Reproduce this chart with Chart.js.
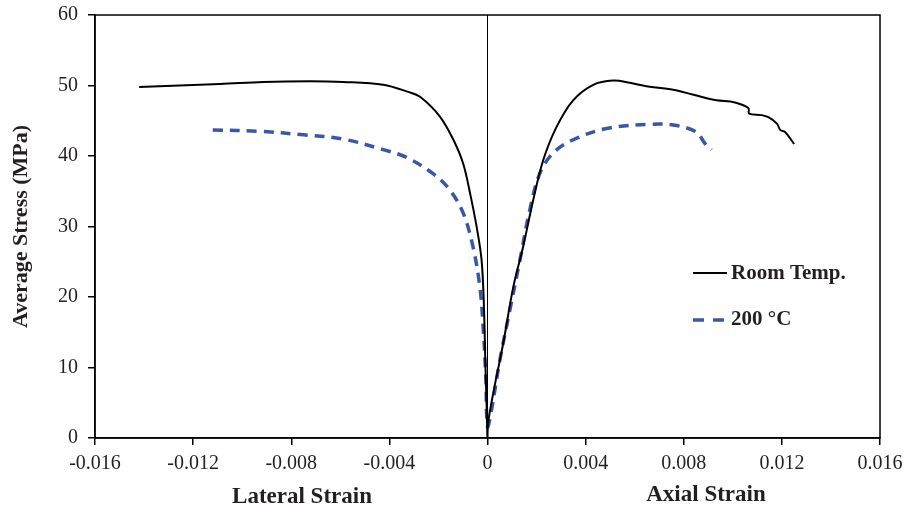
<!DOCTYPE html>
<html>
<head>
<meta charset="utf-8">
<script src="https://cdn.jsdelivr.net/npm/chart.js@4.4.1/dist/chart.umd.min.js"></script>
<style>
  html, body { margin: 0; padding: 0; background: #fff; }
  #wrap { width: 906px; height: 511px; }
</style>
</head>
<body>
<div id="wrap"><canvas id="c" width="906" height="511"></canvas></div>
<script>
// lateral strain is negative, axial strain positive
const roomStrain = [-0.0142, -0.0109, -0.00915, -0.00724, -0.00588, -0.00425, -0.00324, -0.00275, -0.00194, -0.00139,
  -0.00099, -0.00071, -0.00044, -0.00024, -0.00014, -0.00009, -0.00003, 0,
  0.00002, 0.00023, 0.00064, 0.00105, 0.00145, 0.00186, 0.00227, 0.00281, 0.00349, 0.00431, 0.00513, 0.0058,
  0.00648, 0.00757, 0.00893, 0.00934, 0.01009, 0.01063, 0.01067, 0.01118, 0.01145, 0.0118, 0.01193, 0.01213, 0.0125];
const roomStress = [49.8, 50.2, 50.5, 50.6, 50.5, 50.1, 49.1, 48.4, 45.6, 42.3,
  38.9, 34.7, 29.9, 25.2, 18.1, 11.0, 3.9, 0,
  2.0, 6.3, 13.4, 21.4, 27.1, 33.7, 39.4, 44.1, 47.9, 50.1, 50.7, 50.4,
  49.9, 49.4, 48.2, 47.9, 47.6, 46.8, 46.0, 45.8, 45.5, 44.6, 43.7, 43.4, 41.7];

const hotStrain = [-0.0112, -0.00927, -0.00751, -0.00588, -0.00425, -0.0033, -0.00222, -0.00154, -0.00099, -0.00059,
  -0.00031, -0.00018, -0.00007, 0,
  0.00016, 0.0005, 0.00091, 0.00132, 0.00172, 0.00213, 0.00267, 0.00349, 0.00485, 0.00662, 0.00757, 0.00852, 0.00886, 0.00913];
const hotStress = [43.7, 43.5, 43.0, 42.4, 40.9, 39.8, 37.5, 35.2, 31.9, 27.1,
  21.4, 15.8, 8.7, 1.6,
  3.9, 11.0, 18.1, 25.2, 32.3, 37.5, 40.4, 42.3, 43.9, 44.5, 44.4, 43.4, 41.8, 40.9];

const xTicks = [-0.016, -0.012, -0.008, -0.004, 0, 0.004, 0.008, 0.012, 0.016];
const yTicks = [0, 10, 20, 30, 40, 50, 60];
const seriesNames = ["Room Temp.", "200 \u00B0C"];
const xTitles = ["Lateral Strain", "Axial Strain"];

const BLUE = "#3a56a6";
const TXT = "#231f20";
const SERIF = "'Liberation Serif', 'Times New Roman', serif";

function pts(xs, ys){ return xs.map((x,i)=>({x:x, y:ys[i]})); }

// frame, x titles and legend inside the plot
const extras = {
  id: "extras",
  afterDraw(chart) {
    const ctx = chart.ctx, a = chart.chartArea;
    ctx.save();
    ctx.strokeStyle = "#000";
    ctx.lineWidth = 1.5;
    ctx.strokeRect(a.left, a.top, a.right - a.left, a.bottom - a.top);

    ctx.fillStyle = TXT;
    ctx.font = "bold 23px " + SERIF;
    ctx.textAlign = "center";
    ctx.textBaseline = "middle";
    ctx.fillText(xTitles[0], 302, 497);
    ctx.fillText(xTitles[1], 706, 495);

    // legend
    ctx.font = "bold 21px " + SERIF;
    ctx.textAlign = "left";
    ctx.lineWidth = 2;
    ctx.strokeStyle = "#000";
    ctx.beginPath(); ctx.moveTo(693, 273); ctx.lineTo(727, 273); ctx.stroke();
    ctx.fillText(seriesNames[0], 731, 274);
    ctx.strokeStyle = BLUE;
    ctx.lineWidth = 3.5;
    ctx.setLineDash([11, 9]);
    ctx.beginPath(); ctx.moveTo(693, 320); ctx.lineTo(727, 320); ctx.stroke();
    ctx.setLineDash([]);
    ctx.fillText(seriesNames[1], 731, 320);
    ctx.restore();
  }
};

new Chart(document.getElementById("c"), {
  type: "scatter",
  data: {
    datasets: [
      { label: "zero", data: [{x:0,y:0},{x:0,y:60}], showLine: true, borderColor: "#000", borderWidth: 1,
        pointRadius: 0, tension: 0 },
      { label: seriesNames[0], data: pts(roomStrain, roomStress), showLine: true, borderColor: "#000",
        borderWidth: 2, pointRadius: 0, tension: 0.35 },
      { label: seriesNames[1], data: pts(hotStrain, hotStress), showLine: true, borderColor: BLUE,
        borderWidth: 3.5, borderDash: [10, 7], pointRadius: 0, tension: 0.35 }
    ]
  },
  options: {
    responsive: false,
    animation: false,
    layout: { padding: { left: 0, right: 26, top: 15, bottom: 0 } },
    plugins: { legend: { display: false }, tooltip: { enabled: false } },
    scales: {
      x: {
        type: "linear", min: -0.016, max: 0.016,
        afterBuildTicks: s => { s.ticks = xTicks.map(v => ({value: v})); },
        afterFit: s => { s.height = 73; s.paddingLeft = 0; s.paddingRight = 0; },
        ticks: { color: TXT, font: { family: SERIF, size: 20 }, padding: 7,
          callback: v => (Math.abs(v) < 1e-9 ? "0" : String(Number(v.toFixed(3)))) },
        grid: { drawOnChartArea: false, drawTicks: true, tickLength: 7, color: "#000", lineWidth: 1.5 },
        border: { display: true, color: "#000", width: 1.5 }
      },
      y: {
        min: 0, max: 60,
        afterBuildTicks: s => { s.ticks = yTicks.map(v => ({value: v})); },
        afterFit: s => { s.width = 95; s.paddingTop = 0; s.paddingBottom = 0; },
        ticks: { color: TXT, font: { family: SERIF, size: 20 }, padding: 10 },
        grid: { drawOnChartArea: false, drawTicks: true, tickLength: 7, color: "#000", lineWidth: 1.5 },
        border: { display: true, color: "#000", width: 1.5 },
        title: { display: true, text: "Average Stress (MPa)", color: TXT,
          font: { family: SERIF, size: 22, weight: "bold" }, padding: { top: 8, bottom: 0 } }
      }
    }
  },
  plugins: [extras]
});
</script>
</body>
</html>
